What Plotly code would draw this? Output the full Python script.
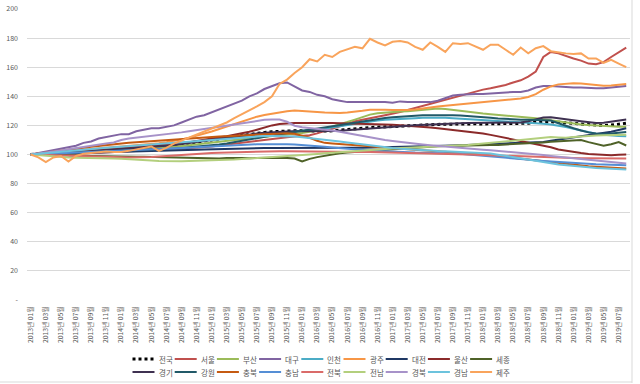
import plotly.graph_objects as go

# ---- categories (2013-01 .. 2019-08) ----
months = [f"{y}년 {m:02d}월" for y in range(2013, 2020) for m in range(1, 13)][:80]
tick_labels = months[::2]

y_tickvals = [0, 20, 40, 60, 80, 100, 120, 140, 160, 180, 200]
y_ticktext = ["-", "20", "40", "60", "80", "100", "120", "140", "160", "180", "200"]

# ---- series values ----
jeonguk = [100, 100.4, 100.8, 101.2, 101.6, 102, 102.3, 102.7, 103.2, 103.7, 104.1, 104.4,
           104.7, 104.9, 105.1, 105.3, 105.5, 105.8, 106.2, 106.7, 107.2, 107.8, 108.5, 109.2,
           110.0, 110.8, 111.6, 112.4, 113.2, 114.0, 114.6, 115.2, 115.7, 116.0, 116.2, 116.3,
           116.3, 116.1, 116.0, 116.1, 116.3, 116.6, 117.0, 117.5, 118.0, 118.5, 118.8, 119.0,
           119.2, 119.5, 119.8, 120.0, 120.3, 120.5, 120.7, 120.8, 121.0, 121.0, 121.1, 121.1,
           121.0, 121.0, 121.1, 121.0, 121.0, 121.0, 121.5, 122.2, 122.6, 122.5, 122.2, 121.8,
           121.3, 120.8, 120.3, 120.0, 119.8, 120.2, 120.8, 121.5]
seoul = [100, 100.2, 100.1, 100.4, 100.8, 100.6, 100.5, 100.7, 101.0, 101.4, 101.6, 101.8,
         102.0, 102.3, 102.6, 102.8, 103.0, 103.1, 103.3, 103.6, 103.9, 104.2, 104.6, 105.0,
         105.5, 106.1, 106.8, 107.5, 108.2, 108.9, 109.6, 110.3, 110.9, 111.4, 111.9, 112.3,
         112.7, 113.3, 114.5, 116.0, 117.5, 119.0, 121.0, 122.8, 124.0, 125.0, 126.0, 127.0,
         128.0, 129.2, 130.6, 132.0, 133.5, 135.0, 136.3, 137.8, 139.2, 140.8, 142.3, 143.6,
         144.6, 145.5, 146.5, 147.8, 149.5, 151.0, 153.5, 157.0, 167.0, 170.5, 169.5, 167.5,
         166.0, 164.5, 162.5, 162.0, 163.5, 167.0, 170.5, 173.5]
busan = [100, 100.1, 100.3, 100.6, 100.9, 101.1, 101.3, 101.6, 101.9, 102.2, 102.5, 102.8,
         103.1, 103.4, 103.7, 104.0, 104.3, 104.6, 105.0, 105.4, 105.9, 106.4, 106.9, 107.5,
         108.1, 108.7, 109.3, 109.9, 110.5, 111.1, 111.7, 112.3, 112.8, 113.3, 113.8, 114.3,
         114.7, 115.4, 116.4, 117.6, 119.0, 120.6, 122.3, 124.0, 125.8, 127.4, 128.4, 128.9,
         129.2, 129.5, 129.8, 130.2, 130.6, 131.0, 131.6, 131.3, 130.6, 130.0, 129.3, 128.7,
         128.2, 127.7, 127.3, 126.9, 126.5, 126.1, 125.6, 125.0, 124.2, 123.4, 122.6, 121.8,
         121.2, 120.6, 120.2, 119.8, 119.5, 119.3, 119.1, 119.0]
daegu = [100, 101, 102, 103, 104, 105, 106, 108, 109, 111, 112, 113,
         114, 114, 116, 117, 118, 118, 119, 120, 122, 124, 126, 127,
         129, 131, 133, 135, 137, 140, 142, 145, 147, 149, 149.5, 147,
         144, 143, 141, 140, 138, 137, 136, 136, 136, 136, 136.5, 136,
         135.5, 136.5, 136, 136, 136, 136, 137, 139, 140.5, 141, 141.5, 141.5,
         141.5, 142, 142, 142.5, 143, 143, 144, 146, 147, 147, 146.5, 146.5,
         146, 146, 145.5, 145.5, 145.5, 146, 146.5, 147]
incheon = [100, 100.4, 100.7, 101, 101.3, 101.6, 101.9, 102.3, 102.7, 103.2, 103.6, 104,
           104.4, 104.8, 105.2, 105.6, 106.0, 106.4, 106.9, 107.4, 107.9, 108.5, 109.1, 109.7,
           110.3, 110.9, 111.5, 112.1, 112.7, 113.3, 113.9, 114.4, 114.8, 115.2, 115.5, 115.8,
           116.1, 116.6, 117.2, 117.9, 118.7, 119.5, 120.4, 121.2, 122.0, 122.7, 123.3, 123.8,
           124.2, 124.5, 124.8, 125.0, 125.2, 125.3, 125.3, 125.2, 125.0, 124.7, 124.4, 124.1,
           123.8, 123.5, 123.2, 122.9, 122.6, 122.3, 122.0, 121.6, 121.1, 120.6, 119.9, 118.9,
           117.7, 116.4, 115.2, 114.2, 113.5, 113.0, 112.8, 112.6]
gwangju = [100, 100.5, 101, 101.2, 101.8, 102.3, 102.8, 103.3, 103.7, 104.2, 104.7, 105.1,
           105.5, 105.9, 106.3, 106.8, 107.3, 107.8, 108.5, 109.3, 110.3, 111.5, 112.8, 114.2,
           115.8, 117.5, 119.2, 121.0, 122.8, 124.5, 126.0, 127.2, 128.2, 129.2, 129.8, 130.2,
           130.0, 129.6, 129.2, 128.8, 128.6, 128.5, 128.8, 129.2, 130.0, 130.8, 131.0, 130.8,
           130.6, 130.4, 130.6, 131.0, 131.8, 132.5, 133.0, 133.5, 134.0, 134.4, 134.8, 135.3,
           135.8, 136.3, 136.8, 137.3, 137.8, 138.5, 139.5, 141.5, 144.5, 146.8, 148.2, 148.6,
           149.0, 148.8, 148.3, 147.8, 147.3, 147.5, 148.0, 148.5]
daejeon = [100, 100.1, 100.2, 100.4, 100.6, 100.8, 101.0, 101.1, 101.2, 101.4, 101.6, 101.7,
           101.8, 101.9, 102.0, 102.1, 102.2, 102.3, 102.4, 102.6, 102.8, 103.0, 103.2, 103.4,
           103.6, 103.8, 104.0, 104.1, 104.2, 104.3, 104.4, 104.5, 104.5, 104.5, 104.4, 104.3,
           104.2, 104.1, 104.1, 104.2, 104.3, 104.4, 104.5, 104.6, 104.7, 104.8, 104.9, 105.0,
           105.0, 105.1, 105.2, 105.3, 105.4, 105.6, 105.8, 106.0, 106.2, 106.4, 106.6, 106.9,
           107.1, 107.3, 107.5, 107.6, 107.6, 107.7, 107.8, 108.1, 108.6, 109.4, 110.2, 111.0,
           111.7, 112.3, 113.0, 113.7, 114.5, 115.6, 116.8, 118.0]
ulsan = [100, 100.3, 100.5, 100.8, 101.1, 101.3, 101.6, 102.0, 102.4, 102.9, 103.3, 103.7,
         104.1, 104.5, 104.9, 105.3, 105.8, 106.3, 106.8, 107.3, 107.8, 108.5, 109.2, 110.0,
         111.0, 111.8, 112.6, 113.5, 114.5, 115.6, 117.0, 118.6, 120.0, 121.0, 121.4, 121.6,
         121.6, 121.7, 121.8, 121.7, 121.6, 121.5, 121.4, 121.3, 121.2, 121.0, 120.8, 120.6,
         120.4, 120.1, 119.8, 119.4, 119.0, 118.5, 118.0, 117.5, 117.0, 116.4, 115.8, 115.2,
         114.5, 113.5, 112.4, 111.4, 110.4, 109.4, 108.4, 107.4, 106.3, 105.0, 103.5, 102.5,
         101.8, 101.0, 100.4, 100.0, 99.6, 99.5, 99.8, 100.0]
sejong = [100, 99.8, 99.6, 99.5, 99.3, 99.2, 99.2, 99.1, 99.0, 99.0, 98.9, 98.8,
          98.7, 98.6, 98.5, 98.4, 98.3, 98.1, 98.0, 97.8, 97.6, 97.5, 97.3, 97.2,
          97.4, 97.2, 97.6, 97.8, 97.6, 97.5, 97.7, 97.9, 98.0, 97.8, 97.6, 97.2,
          95.2, 97.0, 98.2, 99.2, 100.0, 100.8, 101.3, 101.7, 102.0, 102.3, 102.7, 103.0,
          103.4, 103.8, 104.2, 104.6, 105.0, 105.3, 105.6, 105.8, 106.0, 106.2, 106.3, 106.4,
          106.5, 106.5, 106.6, 106.8, 107.0, 107.3, 107.6, 107.9, 108.3, 108.7, 109.1, 109.5,
          109.8, 110.0, 108.5, 107.5, 106.0, 107.0, 108.5, 106.2]
gyeonggi = [100, 100.2, 100.5, 100.8, 101.1, 101.3, 101.5, 101.8, 102.2, 102.7, 103.1, 103.5,
            103.9, 104.2, 104.5, 104.8, 105.1, 105.5, 106.0, 106.6, 107.2, 107.9, 108.6, 109.3,
            110.0, 110.8, 111.6, 112.4, 113.1, 113.8, 114.4, 114.9, 115.3, 115.6, 115.8, 115.9,
            115.9, 115.8, 115.8, 115.9, 116.1, 116.4, 116.8, 117.3, 117.8, 118.3, 118.6, 118.9,
            119.2, 119.5, 119.8, 120.1, 120.4, 120.7, 121.0, 121.2, 121.4, 121.5, 121.6, 121.7,
            121.6, 121.6, 121.7, 121.6, 121.7, 122.0, 122.9, 124.4, 125.4, 125.6, 125.1, 124.4,
            123.6, 122.9, 122.2, 121.6, 121.8, 122.6, 123.4, 124.0]
gangwon = [100, 100.2, 100.3, 100.5, 100.8, 101.0, 101.2, 101.4, 101.6, 101.9, 102.2, 102.4,
           102.6, 102.8, 103.0, 103.2, 103.4, 103.6, 103.9, 104.2, 104.5, 104.9, 105.3, 105.7,
           106.2, 106.8, 107.5, 108.3, 109.2, 110.2, 111.2, 112.2, 113.1, 114.0, 114.8, 115.6,
           116.3, 117.0, 117.7, 118.4, 119.2, 120.0, 120.9, 121.8, 122.7, 123.6, 124.4, 125.1,
           125.6, 126.0, 126.4, 126.7, 126.9, 127.0, 127.1, 127.1, 127.0, 126.8, 126.5, 126.2,
           125.8, 125.3, 124.8, 124.4, 124.1, 123.9, 123.8, 123.8, 123.9, 123.4, 121.5, 119.5,
           118.0, 116.5, 115.2, 114.5, 114.2, 114.5, 115.0, 115.5]
chungbuk = [100, 100.6, 101.2, 101.9, 102.6, 103.3, 104.0, 104.7, 105.4, 106.0, 106.6, 107.1,
            107.6, 108.0, 108.4, 108.8, 109.2, 109.6, 110.0, 110.4, 110.8, 111.1, 111.4, 111.7,
            112.0, 112.3, 112.6, 112.9, 113.2, 113.5, 113.8, 114.1, 114.4, 114.6, 114.6, 114.3,
            113.0, 111.5, 109.5, 108.0, 107.6, 107.3, 107.0, 106.6, 106.2, 105.7, 105.2, 104.7,
            104.2, 103.8, 103.5, 103.2, 102.9, 102.6, 102.3, 102.0, 101.7, 101.4, 101.0, 100.5,
            100.0, 99.4, 98.8, 98.2, 97.6, 97.0, 96.4, 95.8, 95.3, 94.8, 94.2, 93.5,
            92.9, 92.4, 92.0, 91.6, 91.2, 90.9, 90.6, 90.4]
chungnam = [100, 100.2, 100.4, 100.7, 101.0, 101.2, 101.4, 101.6, 101.8, 102.0, 102.2, 102.4,
            102.6, 102.8, 103.0, 103.2, 103.4, 103.6, 103.8, 104.0, 104.3, 104.6, 104.9, 105.2,
            105.5, 105.8, 106.1, 106.4, 106.6, 106.8, 107.0, 107.1, 107.2, 107.2, 107.1, 106.9,
            106.6, 106.2, 105.8, 105.3, 104.8, 104.3, 103.8, 103.4, 103.0, 102.7, 102.4, 102.1,
            101.9, 101.7, 101.5, 101.3, 101.2, 101.1, 101.0, 100.9, 100.8, 100.5, 100.0, 99.5,
            99.0, 98.5, 98.0, 97.6, 97.2, 96.8, 96.4, 96.0, 95.6, 95.2, 94.8, 94.4,
            94.0, 93.7, 93.5, 93.3, 93.1, 92.9, 92.7, 92.6]
jeonbuk = [100, 99.8, 99.6, 99.5, 99.3, 99.1, 98.9, 98.7, 98.5, 98.4, 98.3, 98.2,
           98.1, 98.0, 98.0, 98.1, 98.3, 98.6, 99.0, 99.4, 99.8, 100.2, 100.5, 100.8,
           101.0, 101.2, 101.4, 101.6, 101.8, 101.9, 102.0, 102.1, 102.2, 102.3, 102.3, 102.3,
           102.3, 102.3, 102.3, 102.2, 102.2, 102.1, 102.0, 101.9, 101.8, 101.7, 101.6, 101.5,
           101.4, 101.3, 101.2, 101.1, 101.0, 100.9, 100.8, 100.6, 100.4, 100.2, 100.0, 99.8,
           99.6, 99.4, 99.2, 99.0, 98.8, 98.6, 98.4, 98.2, 98.0, 97.9, 97.8, 97.7,
           97.6, 97.5, 97.4, 97.4, 97.3, 97.3, 97.3, 97.3]
jeonnam = [100, 99.5, 99.0, 98.6, 98.2, 97.9, 97.8, 97.8, 97.7, 97.6, 97.5, 97.3,
           97.0, 96.6, 96.2, 96.0, 95.8, 95.6, 95.4, 95.3, 95.4, 95.5, 95.6, 95.7,
           95.8, 96.0, 96.3, 96.6, 96.9, 97.2, 97.6, 98.0, 98.4, 98.8, 99.2, 99.5,
           99.8, 100.1, 100.4, 100.8, 101.2, 101.6, 102.0, 102.4, 102.8, 103.2, 103.6, 103.9,
           104.2, 104.4, 104.6, 104.8, 105.0, 105.2, 105.4, 105.6, 105.8, 106.1, 106.5, 107.0,
           107.5, 108.0, 108.5, 109.0, 109.5, 110.0, 110.5, 111.0, 111.6, 112.0, 111.7, 111.5,
           112.0, 112.5, 112.8, 113.0, 113.2, 113.4, 113.5, 113.6]
gyeongbuk = [100, 100.6, 101.2, 102, 102.8, 103.6, 104.5, 105.3, 106, 106.8, 107.6, 108.3,
             110.0, 111, 111.6, 112, 112.5, 113, 113.6, 114.4, 115.2, 116, 116.8, 117.6,
             118.4, 119.2, 120.0, 120.8, 121.6, 122.6, 123.4, 123.8, 124.0, 124.0, 122.5, 119.8,
             118.8, 118.3, 118.0, 117.3, 116.5, 115.6, 114.6, 113.6, 112.6, 111.6, 110.8, 110.0,
             109.3, 108.6, 108.0, 107.4, 106.9, 106.4, 105.9, 105.5, 105.0, 104.6, 104.2, 103.8,
             103.3, 102.9, 102.5, 102.1, 101.7, 101.3, 100.8, 100.2, 99.6, 99.0, 98.5, 98.0,
             97.4, 96.8, 96.2, 95.6, 95.1, 94.6, 94.2, 93.9]
gyeongnam = [100, 100.5, 101.0, 101.5, 102.0, 102.5, 103.0, 103.4, 103.8, 104.2, 104.6, 105.0,
             105.4, 105.8, 106.2, 106.6, 107.0, 107.4, 107.8, 108.2, 108.6, 109.0, 109.4, 109.8,
             110.2, 110.6, 111.0, 111.4, 111.8, 112.2, 112.5, 112.7, 112.8, 112.8, 112.6, 112.3,
             111.9, 111.4, 110.8, 110.2, 109.6, 109.0, 108.3, 107.6, 106.9, 106.2, 105.6, 105.0,
             104.5, 104.0, 103.6, 103.2, 102.9, 102.6, 102.4, 102.2, 102.0, 101.8, 101.6, 101.4,
             101.2, 100.7, 99.9, 99.0, 98.0, 97.2, 96.4, 95.6, 94.8, 94.0, 93.2, 92.6,
             92.1, 91.6, 91.2, 90.8, 90.4, 90.0, 89.8, 89.7]
jeju = [100, 98.0, 94.8, 98.0, 99.0, 95.2, 99.0, 100.5, 101.0, 101.5, 102.0, 101.8,
        101.8, 102.5, 103.5, 104.5, 105.5, 102.5, 104.5, 107.5, 109.5, 111.5, 113.5, 116.0,
        118.0, 120.0, 122.0, 125.0, 127.5, 130.0, 133.0, 136.0, 140.0, 148.5, 151.5, 156.0,
        160.0, 165.5, 164.0, 168.5, 167.0, 170.5, 172.5, 174.0, 173.0, 179.5, 177.0, 175.0,
        177.5, 178.0, 177.0, 174.0, 172.0, 177.0, 174.0, 170.5, 176.5, 176.0, 176.5, 174.0,
        172.0, 175.5, 175.5, 172.0, 168.5, 173.5, 169.5, 173.0, 174.5, 171.0, 170.0, 169.5,
        169.0, 169.5, 166.0, 166.0, 163.0, 165.0, 162.5, 160.0]

series_names = ["전국", "서울", "부산", "대구", "인천", "광주", "대전", "울산", "세종",
                "경기", "강원", "충북", "충남", "전북", "전남", "경북", "경남", "제주"]
series_values = [jeonguk, seoul, busan, daegu, incheon, gwangju, daejeon, ulsan, sejong,
                 gyeonggi, gangwon, chungbuk, chungnam, jeonbuk, jeonnam, gyeongbuk, gyeongnam, jeju]
series_colors = ["#000000", "#C0504D", "#9BBB59", "#8064A2", "#4BACC6", "#F79646", "#1F3864",
                 "#8B2A2A", "#4F6228", "#3F3151", "#215968", "#C55A11", "#558ED5", "#DA6B69",
                 "#B3CF7D", "#A792C9", "#6CC3DD", "#F9A45C"]

FONT = "Noto Sans CJK KR, Noto Sans, sans-serif"
TXT = "#595959"

# plot area in pixels
L, R, T, B = 27, 10, 9, 84
W, H = 640, 384
PW, PH = W - L - R, H - T - B


def px_x(px):
    return (px - L) / PW


def px_y(py):
    return (H - B - py) / PH


fig = go.Figure()
for name, vals, col in zip(series_names, series_values, series_colors):
    is_nat = name == "전국"
    fig.add_trace(go.Scatter(
        x=months, y=vals, name=name, mode="lines",
        line=dict(color=col, width=3 if is_nat else 2, dash="dot" if is_nat else "solid"),
        showlegend=False,
    ))

# custom legend (two rows of nine)
shapes = []
annotations = []
pitch = 42.2
for k, (name, col) in enumerate(zip(series_names, series_colors)):
    row, colidx = divmod(k, 9)
    x0 = 132.5 + colidx * pitch
    yy = 359 if row == 0 else 372
    is_nat = name == "전국"
    shapes.append(dict(type="line", xref="paper", yref="paper",
                       x0=px_x(x0), x1=px_x(x0 + 22), y0=px_y(yy), y1=px_y(yy),
                       line=dict(color=col, width=3 if is_nat else 2,
                                 dash="dot" if is_nat else "solid")))
    annotations.append(dict(text=name, xref="paper", yref="paper",
                            x=px_x(x0 + 24), y=px_y(yy), xanchor="left", yanchor="middle",
                            showarrow=False, font=dict(family=FONT, size=7.5, color=TXT)))

# chart border (right & bottom visible)
shapes.append(dict(type="line", xref="paper", yref="paper", x0=px_x(632), x1=px_x(632),
                   y0=px_y(383), y1=px_y(0), line=dict(color="#D9D9D9", width=1)))
shapes.append(dict(type="line", xref="paper", yref="paper", x0=px_x(0), x1=px_x(632),
                   y0=px_y(382), y1=px_y(382), line=dict(color="#D9D9D9", width=1)))

fig.update_layout(
    width=W, height=H,
    margin=dict(l=L, r=R, t=T, b=B, pad=0, autoexpand=False),
    paper_bgcolor="white", plot_bgcolor="white",
    font=dict(family=FONT, color=TXT, size=7),
    showlegend=False,
    shapes=shapes, annotations=annotations,
    xaxis=dict(type="category", range=[-0.5, 79.5], tickmode="array",
               tickvals=tick_labels, ticktext=tick_labels, tickangle=-90,
               tickfont=dict(family=FONT, size=6.8, color=TXT), showgrid=False,
               showline=False, zeroline=False, ticks="", ticklabelstandoff=4,
               automargin=False),
    yaxis=dict(range=[0, 200], tickmode="array", tickvals=y_tickvals, ticktext=y_ticktext,
               tickfont=dict(family=FONT, size=7, color=TXT), showgrid=True,
               gridcolor="#D9D9D9", gridwidth=1, zeroline=False, showline=False,
               ticks="", ticklabelstandoff=8, automargin=False),
)

fig.write_html("out.html", config={"displayModeBar": False},
               post_script="document.body.style.margin='0';document.body.style.overflow='hidden';")
